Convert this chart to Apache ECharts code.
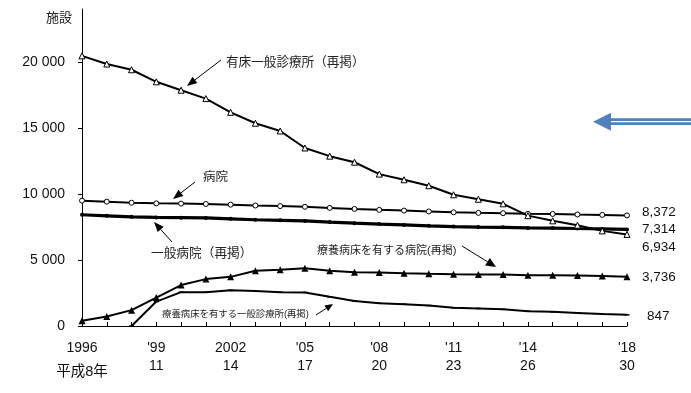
<!DOCTYPE html>
<html><head><meta charset="utf-8">
<script src="https://cdn.jsdelivr.net/npm/echarts@6/dist/echarts.min.js"></script>
<style>html,body{margin:0;padding:0;background:#fff}#c{width:691px;height:393px}</style>
</head><body><div id="c"></div>
<script>
var years = ['1996','1997','1998','1999','2000','2001','2002','2003','2004','2005','2006','2007','2008','2009','2010','2011','2012','2013','2014','2015','2016','2017','2018'];
var labelIdx = [0,3,6,9,12,15,18,22];
var labelTop = ['1996',"'99",'2002',"'05","'08","'11","'14","'18"];
var labelBottom = ['平成8年','11','14','17','20','23','26','30'];
var yTicks = [0,5000,10000,15000,20000];

var yushoClinic = [20452,19835,19400,18487,17853,17218,16178,15350,14765,13477,12858,12399,11500,11072,10620,9934,9596,9249,8355,7961,7629,7202,6934];
var hospital = [9490,9413,9333,9286,9266,9239,9187,9122,9077,9026,8943,8862,8794,8739,8670,8605,8565,8540,8493,8480,8442,8412,8372];
var generalHospital = [8421,8345,8265,8222,8205,8180,8116,8043,7999,7952,7866,7785,7714,7655,7587,7528,7493,7474,7426,7416,7380,7353,7314];
var ryoyoHospital = [400,720,1200,2150,3100,3550,3720,4180,4250,4374,4180,4067,4050,3990,3950,3920,3900,3890,3848,3840,3830,3781,3736];
var ryoyoClinic = [null,null,0,1850,2560,2560,2700,2650,2560,2544,2210,1900,1728,1650,1550,1385,1330,1260,1125,1070,990,902,847];

var CJK = "'Liberation Sans','Noto Sans CJK JP',sans-serif";
var chart = echarts.init(document.getElementById('c'));

function arrow(x1,y1,x2,y2,len,w){
  var dx=x2-x1, dy=y2-y1, d=Math.sqrt(dx*dx+dy*dy), ux=dx/d, uy=dy/d;
  var bx=x2-ux*len, by=y2-uy*len;
  return [
    {type:'line',shape:{x1:x1,y1:y1,x2:bx,y2:by},style:{stroke:'#000',lineWidth:1}},
    {type:'polygon',shape:{points:[[x2,y2],[bx-uy*w,by+ux*w],[bx+uy*w,by-ux*w]]},style:{fill:'#000'}}
  ];
}
function txt(x,y,s,size){
  return {type:'text',x:x,y:y,style:{text:s,fill:'#222',font:size+'px '+CJK,textVerticalAlign:'middle',verticalAlign:'middle'}};
}
var gr = [].concat(
  arrow(221,60,187,86,10,4),
  arrow(195,182,173,199,10,4),
  arrow(172,242,154,222,10,4),
  arrow(462,246,496,267,10,4.5),
  arrow(316,315,333,304,8,3.5),
  [txt(226,63,'有床一般診療所（再掲）',12.6),
   txt(203,178,'病院',12.5),
   txt(151,253,'一般病院（再掲）',12.7),
   txt(317,251,'療養病床を有する病院(再掲)',11),
   txt(162,314,'療養病床を有する一般診療所(再掲)',9.4),
   txt(46,18,'施設',13),
   {type:'rect',shape:{x:610,y:118.3,width:81,height:6.8},style:{fill:'#4f81bd'}},
   {type:'line',shape:{x1:610,y1:121.7,x2:691,y2:121.7},style:{stroke:'#fff',lineWidth:1.3}},
   {type:'polygon',shape:{points:[[593,121.7],[611,112.7],[611,130.7]]},style:{fill:'#4f81bd'}}
  ]
);

function endLab(text, dx, dy){
  return {show:true, formatter:text, color:'#111', fontSize:13.5, fontFamily:"'Liberation Sans',sans-serif", distance:dx, offset:[0,dy]};
}

chart.setOption({
  animation:false,
  grid:{left:82,right:64,top:9,bottom:67},
  xAxis:{type:'category',data:years,boundaryGap:false,
    axisLine:{lineStyle:{color:'#000',width:1}},
    axisTick:{inside:true,length:4,interval:0,lineStyle:{color:'#000'}},
    axisLabel:{interval:function(i){return labelIdx.indexOf(i)>=0;},margin:13,color:'#111',
      formatter:function(v,i){var k=labelIdx.indexOf(i);if(k<0)return '';
        return '{a|'+labelTop[k]+'}\n'+(k===0?'{b|':'{c|')+labelBottom[k]+'}';},
      rich:{a:{fontSize:14,lineHeight:18,fontFamily:CJK,color:'#111'},
            b:{fontSize:14.5,lineHeight:30,fontFamily:CJK,color:'#111'},
            c:{fontSize:14,lineHeight:18,fontFamily:CJK,color:'#111'}}}
  },
  yAxis:{type:'value',min:0,max:24000,interval:5000,
    splitLine:{show:false},
    axisLine:{show:true,lineStyle:{color:'#000',width:1}},
    axisTick:{show:true,length:4,customValues:yTicks,lineStyle:{color:'#000'}},
    axisLabel:{customValues:yTicks,margin:17,color:'#111',fontSize:14,fontFamily:"'Liberation Sans',sans-serif",
      formatter:function(v){return v===0?'0':(Math.floor(v/1000)+' '+String(v%1000).padStart(3,'0'));}}
  },
  series:[
    {type:'line',data:ryoyoClinic,symbol:'rect',symbolSize:[5,1.5],lineStyle:{color:'#000',width:2},itemStyle:{color:'#000'},
      endLabel:endLab('847',20,1)},
    {type:'line',data:ryoyoHospital,symbol:'triangle',symbolSize:7,lineStyle:{color:'#000',width:2},itemStyle:{color:'#000'},
      endLabel:endLab('3,736',15,1)},
    {type:'line',data:generalHospital,symbol:'circle',symbolSize:4,lineStyle:{color:'#000',width:3.2},itemStyle:{color:'#000'},
      endLabel:endLab('7,314',15,0)},
    {type:'line',data:hospital,symbol:'circle',symbolSize:5,showAllSymbol:true,lineStyle:{color:'#000',width:2},itemStyle:{color:'#fff',borderColor:'#000',borderWidth:1},
      endLabel:endLab('8,372',15,-3)},
    {type:'line',data:yushoClinic,symbol:'triangle',symbolSize:6,showAllSymbol:true,lineStyle:{color:'#000',width:2},itemStyle:{color:'#fff',borderColor:'#000',borderWidth:1},
      endLabel:endLab('6,934',15,13)}
  ],
  graphic:gr
});
</script></body></html>
